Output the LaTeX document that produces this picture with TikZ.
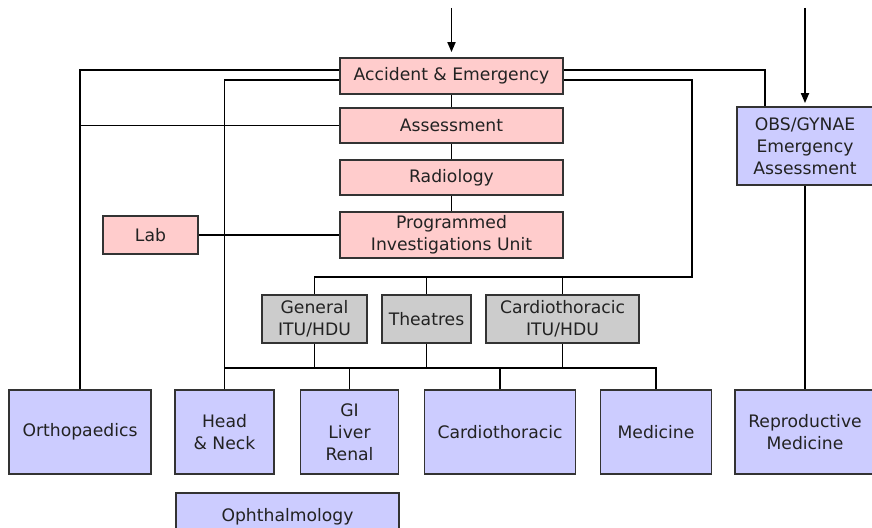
\documentclass[tikz,border=0pt]{standalone}
\usepackage{fontspec}
\setmainfont{DejaVu Sans}
\usetikzlibrary{arrows.meta}
\definecolor{pinkfill}{HTML}{FFCCCC}
\definecolor{bluefill}{HTML}{CCCCFF}
\definecolor{greyfill}{HTML}{CCCCCC}
\definecolor{edgecol}{HTML}{333333}
\definecolor{txtcol}{HTML}{222222}
\begin{document}
\begin{tikzpicture}[x=1pt,y=-1pt,
  box/.style={draw=edgecol, line width=1.8pt, inner sep=0pt, align=center,
    text=txtcol, font=\fontsize{17.2}{22}\selectfont},
  pinkbox/.style={box, fill=pinkfill},
  bluebox/.style={box, fill=bluefill},
  greybox/.style={box, fill=greyfill},
  conn/.style={draw=black, line width=1.8pt},
  arr/.style={conn, -{Triangle[length=10pt,width=8pt]}}]
\useasboundingbox (0,0) rectangle (872,527);
% top column
\node[pinkbox, minimum width=223pt, minimum height=36pt] (ae) at (451.5,76) {Accident \& Emergency};
\node[pinkbox, minimum width=223pt, minimum height=35pt] (as) at (451.5,125.5) {Assessment};
\node[pinkbox, minimum width=223pt, minimum height=35pt] (rad) at (451.5,177.5) {Radiology};
\node[pinkbox, minimum width=223pt, minimum height=46pt] (piu) at (451.5,235) {Programmed\\Investigations Unit};
\node[pinkbox, minimum width=95pt, minimum height=38pt] (lab) at (150.5,235) {Lab};
\node[bluebox, minimum width=136pt, minimum height=78pt] (obs) at (805,146) {OBS/GYNAE\\Emergency\\Assessment};
% grey row
\node[greybox, minimum width=105pt, minimum height=48pt] (gen) at (314.5,319) {General\\ITU/HDU};
\node[greybox, minimum width=89pt, minimum height=48pt] (th) at (426.5,319) {Theatres};
\node[greybox, minimum width=153pt, minimum height=48pt] (cit) at (562.5,319) {Cardiothoracic\\ITU/HDU};
% bottom row
\node[bluebox, minimum width=142pt, minimum height=84pt] (ortho) at (80,432) {Orthopaedics};
\node[bluebox, minimum width=99pt, minimum height=84pt] (hn) at (224.5,432) {Head\\\& Neck};
\node[bluebox, minimum width=98pt, minimum height=84pt] (gi) at (349.5,432) {GI\\Liver\\Renal};
\node[bluebox, minimum width=151pt, minimum height=84pt] (card) at (500,432) {Cardiothoracic};
\node[bluebox, minimum width=111pt, minimum height=84pt] (med) at (656,432) {Medicine};
\node[bluebox, minimum width=140pt, minimum height=84pt] (rep) at (805,432) {Reproductive\\Medicine};
\node[bluebox, minimum width=223pt, minimum height=48pt] (oph) at (287.5,517) {Ophthalmology};
% entry arrows
\coordinate (in1) at (451.5,8);
\coordinate (in2) at (805,8);
\draw[arr, shorten >=5pt] (in1) -- (ae.north);
\draw[arr, shorten >=3pt] (in2) -- (obs.north);
% main column
\draw[conn] (ae) -- (as);
\draw[conn] (as) -- (rad);
\draw[conn] (rad) -- (piu);
\draw[conn] (lab.east) -- (piu.west);
% left lines
\draw[conn] ([yshift=6pt]ae.west) -| (ortho.north);
\draw[conn] (as.west) -- (as.west -| ortho.north);
\draw[conn] ([yshift=-4pt]ae.west) -| (hn.north);
% right lines
\draw[conn] ([yshift=6pt]ae.east) -| ([xshift=-40pt]obs.north);
\draw[conn] (obs) -- (rep);
\coordinate (busR) at (692,277);
\draw[conn] ([yshift=-4pt]ae.east) -| (busR) -| (gen.north);
\draw[conn] (th.north) -- (th.north |- busR);
\draw[conn] (cit.north) -- (cit.north |- busR);
% lower bus
\coordinate (busL) at (224.5,368);
\draw[conn] (busL) -| (med.north);
\draw[conn] (gen.south) -- (gen.south |- busL);
\draw[conn] (th.south) -- (th.south |- busL);
\draw[conn] (cit.south) -- (cit.south |- busL);
\draw[conn] (gi.north) -- (gi.north |- busL);
\draw[conn] (card.north) -- (card.north |- busL);
\end{tikzpicture}
\end{document}
